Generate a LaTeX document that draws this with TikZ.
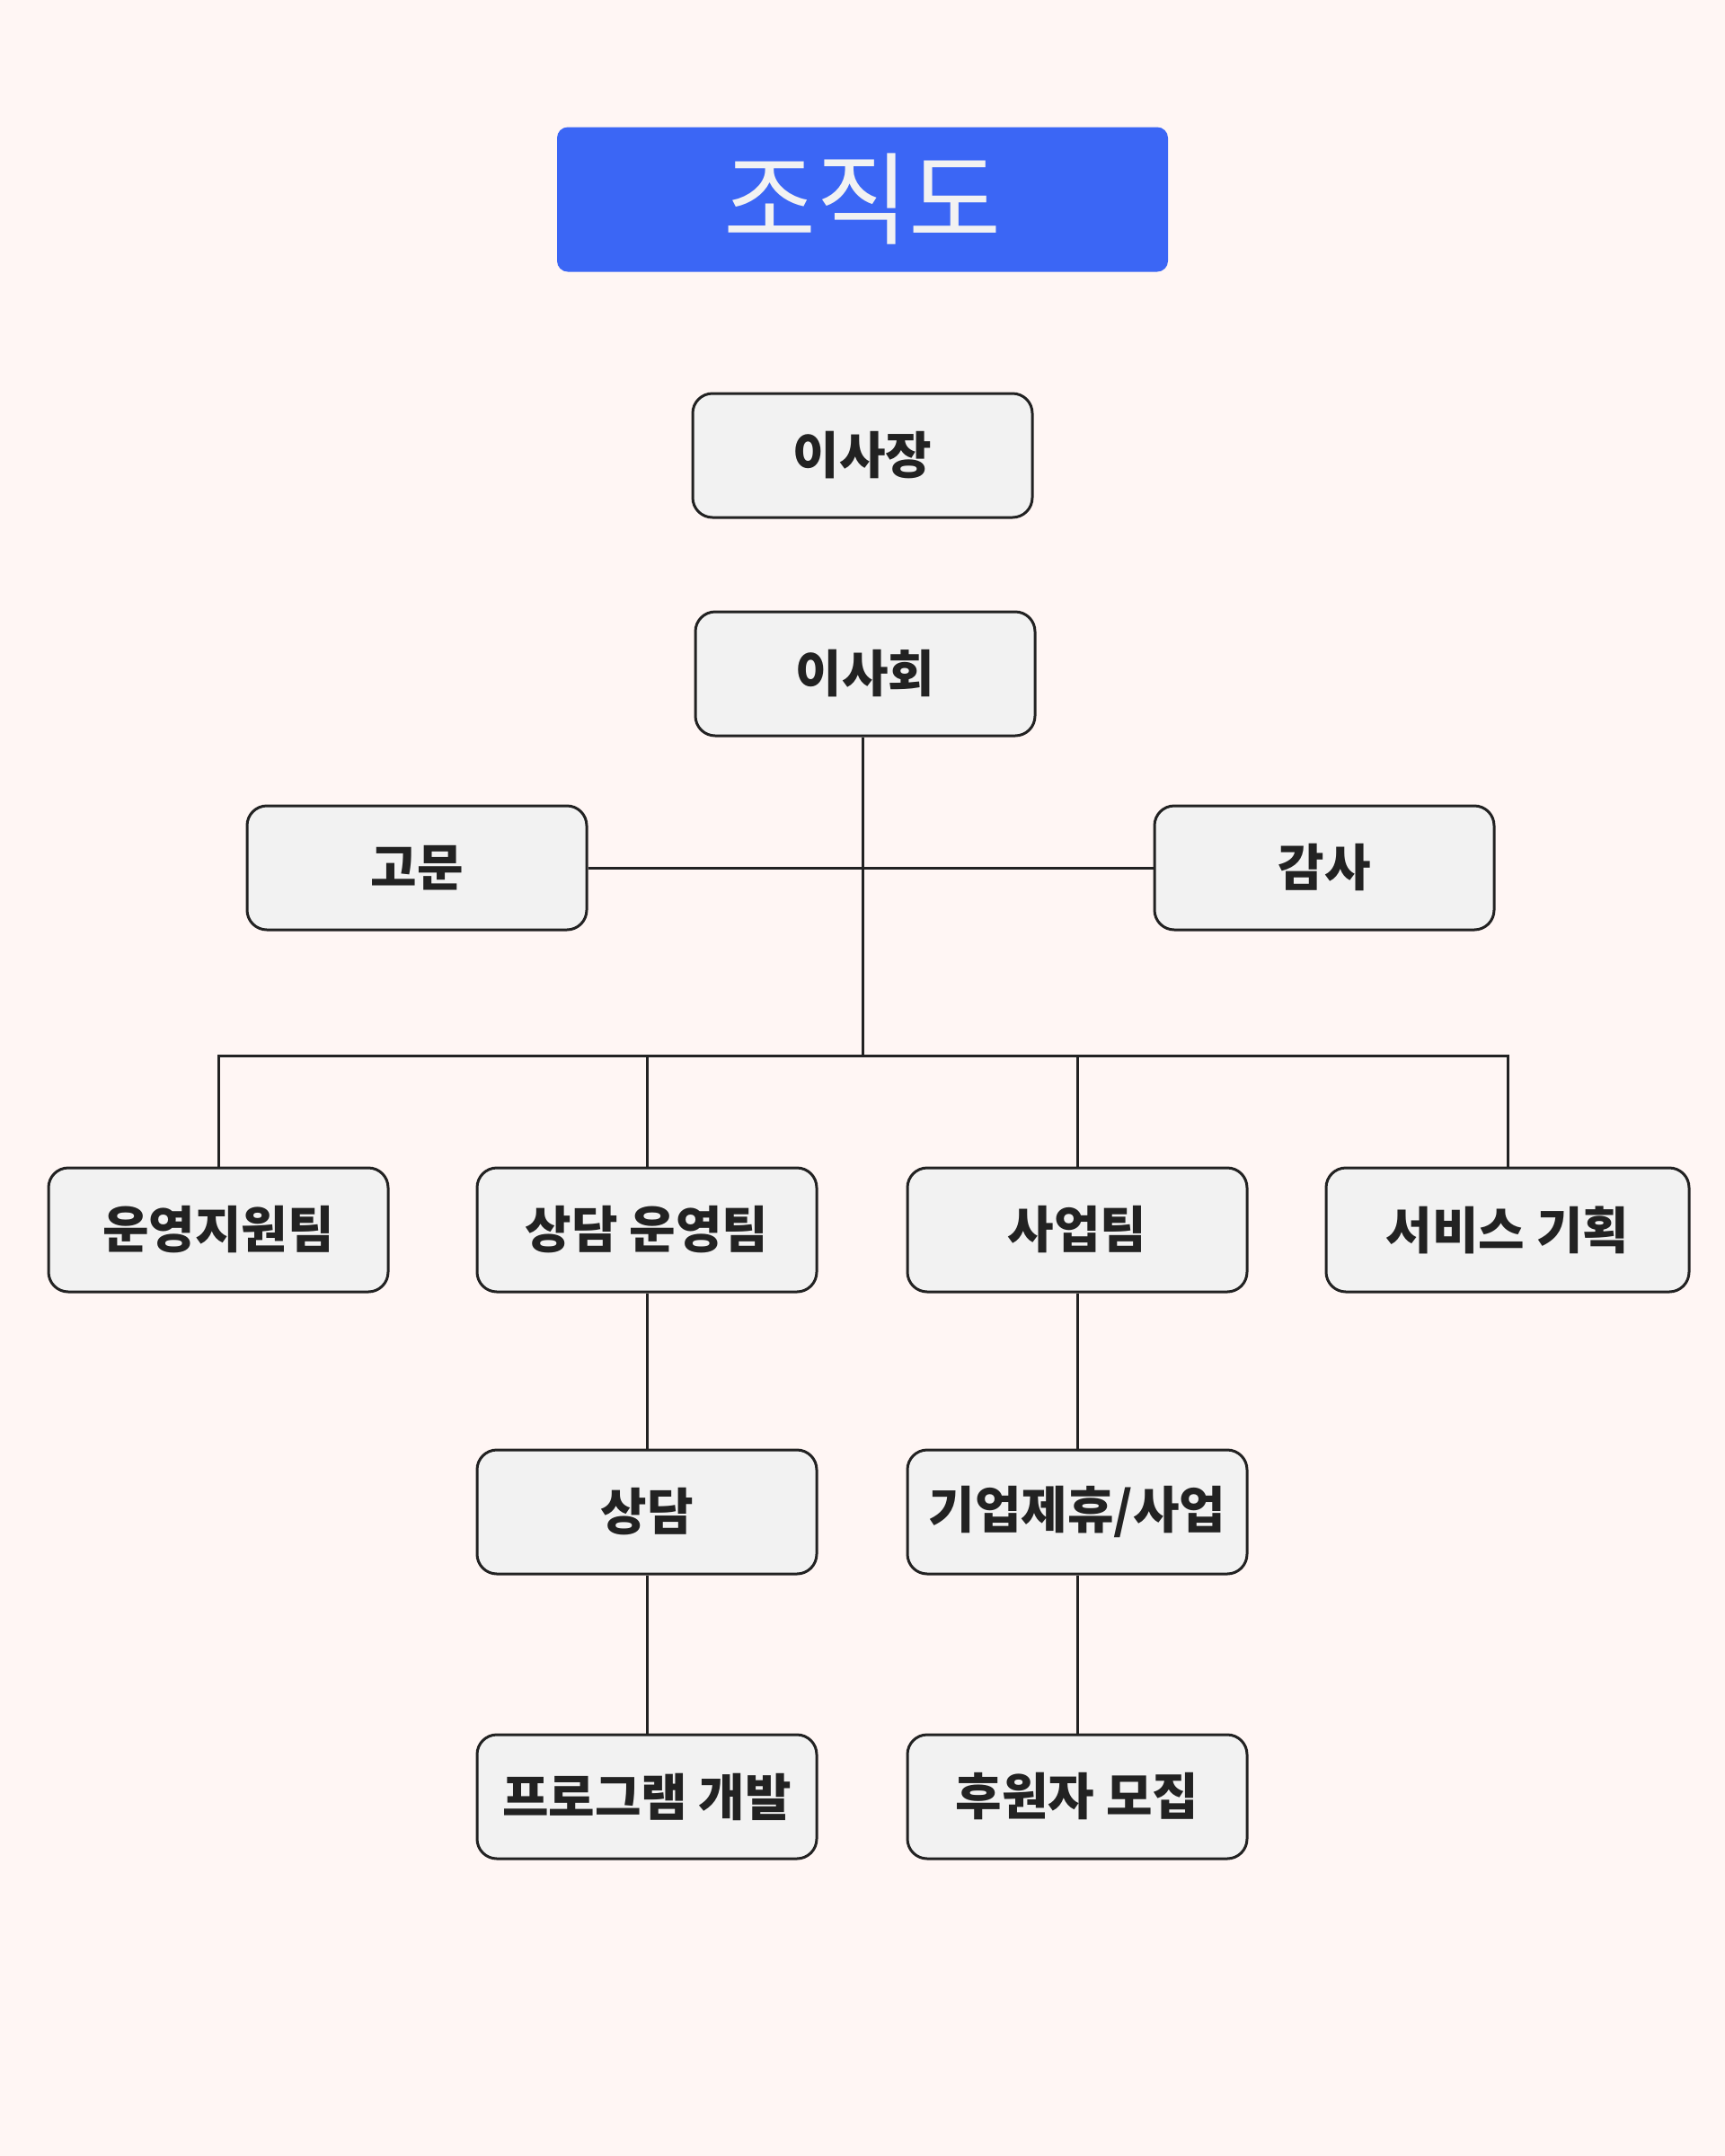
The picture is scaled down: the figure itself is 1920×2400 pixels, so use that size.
\documentclass[tikz,border=0pt]{standalone}
\usepackage{fontspec}
\setmainfont{Noto Sans CJK KR}
\usetikzlibrary{positioning}
\definecolor{bg}{HTML}{FFF6F4}
\definecolor{titlebl}{HTML}{3B66F5}
\definecolor{boxfill}{HTML}{F2F2F2}
\definecolor{ink}{HTML}{222222}

\begin{document}
\begin{tikzpicture}[x=0.5pt,y=-0.5pt,
  orgbox/.style={draw=ink,line width=1.5pt,fill=boxfill,rounded corners=11pt,
    minimum width=189pt,minimum height=69pt,inner sep=0pt,text=ink,
    font=\bfseries\fontsize{28}{32}\selectfont},
  titlebox/.style={fill=titlebl,rounded corners=6pt,minimum width=340pt,
    minimum height=80.5pt,inner sep=0pt,text=boxfill,
    font=\fontsize{56}{64}\selectfont},
  wire/.style={draw=ink,line width=1.5pt}]
  \fill[bg] (0,0) rectangle (1920,2400);
  \node[titlebox] (title) at (960,222) {조직도};
  \node[orgbox] (chair) at (960,507) {이사장};
  \node[orgbox] (board) at (963,750) {이사회};
  \node[orgbox] (adv) at (464,966) {고문};
  \node[orgbox] (audit) at (1474,966) {감사};
  \node[orgbox] (ops) at (243,1369) {운영지원팀};
  \node[orgbox] (cnsl) at (720,1369) {상담 운영팀};
  \node[orgbox] (biz) at (1199,1369) {사업팀};
  \node[orgbox,minimum width=202pt] (plan) at (1678,1369) {서비스 기획};
  \node[orgbox] (cnslsub) at (720,1683) {상담};
  \node[orgbox] (prog) at (720,2000) {프로그램 개발};
  \node[orgbox] (corp) at (1199,1683) {기업제휴/사업};
  \node[orgbox] (donor) at (1199,2000) {후원자 모집};
  \coordinate (bus) at (960,1175);
  % connectors
  \draw[wire] (board.south -| bus) -- (bus);
  \draw[wire] (adv) -- (audit);
  \foreach \t in {ops,cnsl,biz,plan}
    \draw[wire] (\t.north) |- (bus);
  \draw[wire] (cnsl) -- (cnslsub) -- (prog);
  \draw[wire] (biz) -- (corp) -- (donor);
\end{tikzpicture}
\end{document}
